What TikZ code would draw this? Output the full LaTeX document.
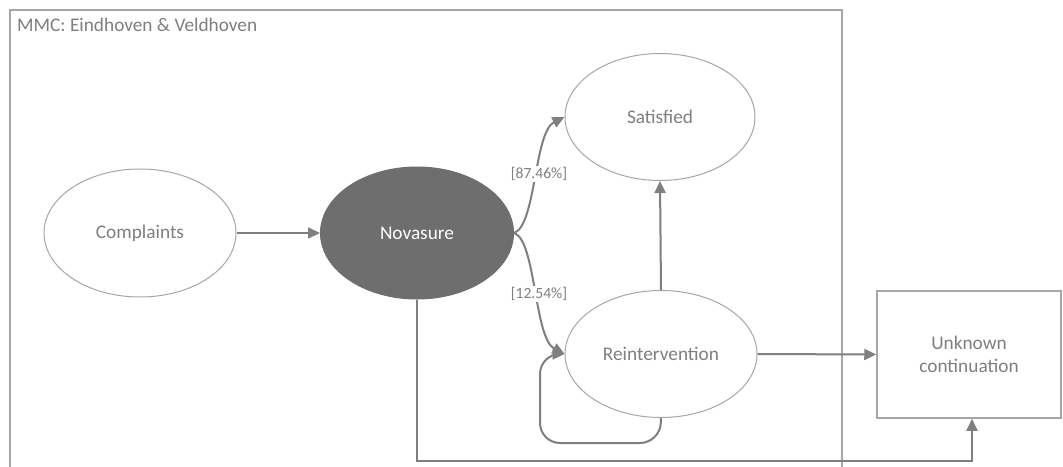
\documentclass[tikz,border=0pt]{standalone}
\usepackage{fontspec}
\setmainfont{Carlito}
\usetikzlibrary{shapes.geometric,arrows.meta}
\definecolor{linegray}{HTML}{A6A6A6}
\definecolor{arrowgray}{HTML}{7F7F7F}
\definecolor{textgray}{HTML}{7F7F7F}
\definecolor{fillgray}{HTML}{6E6E6E}
\tikzset{
  state/.style={ellipse, draw=linegray, line width=1pt, fill=white, minimum width=192pt, minimum height=128pt, inner sep=0pt, text=textgray, font=\fontsize{19.3}{23}\selectfont},
  boxnode/.style={rectangle, draw=linegray, line width=1.5pt, fill=white, minimum width=184pt, minimum height=127pt, inner sep=0pt, text=textgray, align=center, font=\fontsize{19.3}{23}\selectfont},
  flow/.style={draw=arrowgray, line width=2pt, -{Triangle[length=12pt,width=11pt]}},
  pct/.style={fill=white, inner sep=1pt, text=textgray, font=\fontsize{15.6}{18}\selectfont},
}
\begin{document}
\begin{tikzpicture}[x=1pt,y=-1pt]
\useasboundingbox (0,0) rectangle (1063,466);
\fill[white] (0,0) rectangle (1063,466);
\draw[linegray, line width=1.5pt] (10,10) rectangle (842,480);
\node[anchor=north west, text=textgray, font=\fontsize{19.3}{23}\selectfont, inner sep=0pt] (title) at (17,18) {MMC: Eindhoven \& Veldhoven};
\node[state] (compl) at (140,233) {Complaints};
\node[state, fill=fillgray, draw=fillgray, text=white, minimum width=193pt, minimum height=132pt] (nova) at (417,233) {Novasure};
\node[state, minimum width=190pt, minimum height=127pt] (sat) at (660,117) {Satisfied};
\node[state, minimum width=192pt, minimum height=127pt] (reint) at (661,354) {Reintervention};
\node[boxnode] (unk) at (969,354.5) {Unknown\\continuation};
\coordinate (fork) at (514,233);
\draw[flow] (compl) -- (nova);
\draw[flow] (fork) .. controls (536,226) and (534,132) .. (sat.west);
\draw[flow] (fork) .. controls (536,240) and (534,338) .. (reint.west);
\node[pct] (p1) at (539,174) {[87.46\%]};
\node[pct] (p2) at (539,294) {[12.54\%]};
\draw[flow] (reint.north) -- (sat.south);
\draw[flow] (reint.east) -- (unk.west);
\coordinate (l1) at (660,443);
\coordinate (l2) at (540,443);
\coordinate (l3) at (540,354);
\draw[flow, rounded corners=20pt] (reint.south) -- (l1) -- (l2) -- (l3) -- (reint.west);
\coordinate (b1) at (417,461);
\coordinate (b2) at (972,461);
\draw[flow] (nova.south) -- (b1) -- (b2) -- (unk.south -| b2);
\end{tikzpicture}
\end{document}
